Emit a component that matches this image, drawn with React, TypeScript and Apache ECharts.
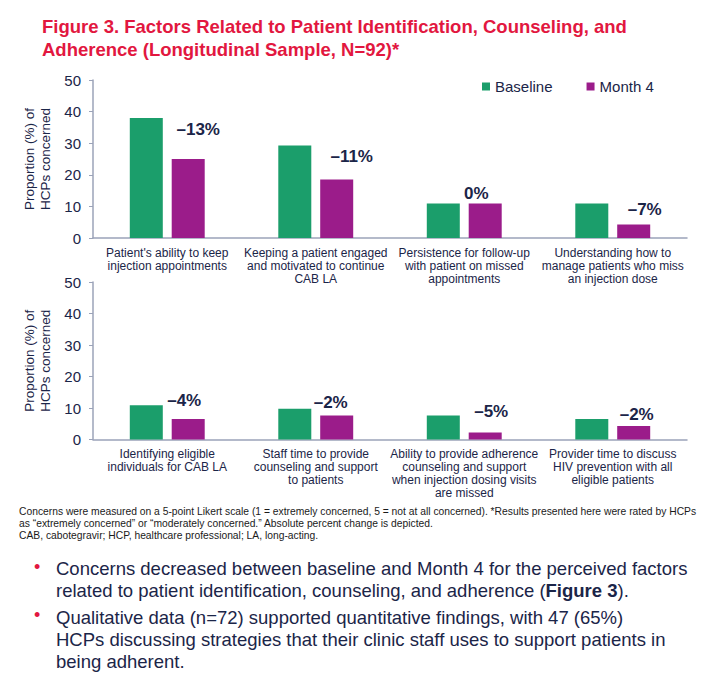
import React, { useEffect, useRef } from "react";
import * as echarts from "echarts";

const SERIES_NAMES = ["Baseline", "Month 4"];

const CATEGORIES_TOP = [
  "Patient's ability to keep\ninjection appointments",
  "Keeping a patient engaged\nand motivated to continue\nCAB LA",
  "Persistence for follow-up\nwith patient on missed\nappointments",
  "Understanding how to\nmanage patients who miss\nan injection dose",
];
const BASELINE_TOP = [38.0, 29.3, 10.9, 10.9];
const MONTH4_TOP = [25.0, 18.5, 10.9, 4.3];
const CHANGE_TOP = ["–13%", "–11%", "0%", "–7%"];

const CATEGORIES_BOTTOM = [
  "Identifying eligible\nindividuals for CAB LA",
  "Staff time to provide\ncounseling and support\nto patients",
  "Ability to provide adherence\ncounseling and support\nwhen injection dosing visits\nare missed",
  "Provider time to discuss\nHIV prevention with all\neligible patients",
];
const BASELINE_BOTTOM = [10.9, 9.8, 7.6, 6.5];
const MONTH4_BOTTOM = [6.5, 7.6, 2.2, 4.3];
const CHANGE_BOTTOM = ["–4%", "–2%", "–5%", "–2%"];

const Y_MIN = 0;
const Y_MAX = 50;
const Y_INTERVAL = 10;

// label nudges (style only, relative to library-placed label)
const NUDGE_TOP = [[10, -16], [15, -10], [-9, 3], [11, -1]];
const NUDGE_BOTTOM = [[-4, -5], [-6, 0], [6, -8], [3, 2]];

const TITLE_LINES = [
  "Figure 3. Factors Related to Patient Identification, Counseling, and",
  "Adherence (Longitudinal Sample, N=92)*",
];
const FOOTNOTE_LINES = [
  "Concerns were measured on a 5-point Likert scale (1 = extremely concerned, 5 = not at all concerned). *Results presented here were rated by HCPs",
  "as “extremely concerned” or “moderately concerned.” Absolute percent change is depicted.",
  "CAB, cabotegravir; HCP, healthcare professional; LA, long-acting.",
];
const BULLET_1 = [
  "Concerns decreased between baseline and Month 4 for the perceived factors",
  "related to patient identification, counseling, and adherence ({b|Figure 3}).",
];
const BULLET_2 = [
  "Qualitative data (n=72) supported quantitative findings, with 47 (65%)",
  "HCPs discussing strategies that their clinic staff uses to support patients in",
  "being adherent.",
];

const FONT = "'Liberation Sans', Arial, Helvetica, sans-serif";
const GREEN = "#1b9e6b";
const PURPLE = "#9b1c8a";
const NAVY = "#1b2548";
const AXIS = "#9ba3b9";
const RED = "#e2173f";

export default function App() {
  const ref = useRef<HTMLDivElement>(null);

  useEffect(() => {
    document.body.style.margin = "0";
    const chart = echarts.init(ref.current!, null, { renderer: "svg" });

    const grids = [
      { left: 93, right: 32, top: 80, height: 158 },
      { left: 93, right: 32, top: 282, height: 157.5 },
    ];

    const xAxisFor = (cats: string[], gridIndex: number) => ({
      type: "category",
      gridIndex,
      data: cats,
      axisLine: { show: true, lineStyle: { color: AXIS, width: 1.5 } },
      axisTick: { show: false },
      axisLabel: {
        interval: 0,
        margin: 8,
        fontSize: 12,
        lineHeight: 13,
        color: NAVY,
        fontFamily: FONT,
      },
    });

    const yAxisFor = (gridIndex: number) => ({
      type: "value",
      gridIndex,
      min: Y_MIN,
      max: Y_MAX,
      interval: Y_INTERVAL,
      name: "Proportion (%) of\nHCPs concerned",
      nameLocation: "middle",
      nameRotate: 90,
      nameGap: 36,
      nameTextStyle: {
        fontSize: 13.5,
        lineHeight: 16,
        color: NAVY,
        fontFamily: FONT,
      },
      axisLine: { show: true, lineStyle: { color: AXIS, width: 1.5 } },
      axisTick: { show: true, length: 4, lineStyle: { color: AXIS } },
      splitLine: { show: false },
      axisLabel: {
        margin: 12,
        fontSize: 15,
        color: NAVY,
        fontFamily: FONT,
      },
    });

    const labelledData = (vals: number[], nudges: number[][]) =>
      vals.map((v, i) => ({
        value: v,
        label: { offset: nudges[i] },
      }));

    const changeLabel = (changes: string[]) => ({
      show: true,
      position: "top",
      distance: 5,
      fontSize: 17,
      fontWeight: "bold",
      color: NAVY,
      fontFamily: FONT,
      formatter: (p: any) => changes[p.dataIndex],
    });

    const barCommon = {
      type: "bar",
      barWidth: 33,
      barGap: "27%",
    };

    const option: any = {
      animation: false,
      backgroundColor: "#ffffff",
      textStyle: { fontFamily: FONT },
      grid: grids,
      legend: {
        data: SERIES_NAMES,
        left: 477,
        top: 74,
        itemWidth: 8,
        itemHeight: 8,
        itemGap: 34,
        icon: "rect",
        textStyle: { fontSize: 15, color: NAVY, fontFamily: FONT },
      },
      xAxis: [xAxisFor(CATEGORIES_TOP, 0), xAxisFor(CATEGORIES_BOTTOM, 1)],
      yAxis: [yAxisFor(0), yAxisFor(1)],
      series: [
        {
          ...barCommon,
          name: SERIES_NAMES[0],
          xAxisIndex: 0,
          yAxisIndex: 0,
          itemStyle: { color: GREEN },
          data: BASELINE_TOP,
        },
        {
          ...barCommon,
          name: SERIES_NAMES[1],
          xAxisIndex: 0,
          yAxisIndex: 0,
          itemStyle: { color: PURPLE },
          label: changeLabel(CHANGE_TOP),
          data: labelledData(MONTH4_TOP, NUDGE_TOP),
        },
        {
          ...barCommon,
          name: SERIES_NAMES[0],
          xAxisIndex: 1,
          yAxisIndex: 1,
          itemStyle: { color: GREEN },
          data: BASELINE_BOTTOM,
        },
        {
          ...barCommon,
          name: SERIES_NAMES[1],
          xAxisIndex: 1,
          yAxisIndex: 1,
          itemStyle: { color: PURPLE },
          label: changeLabel(CHANGE_BOTTOM),
          data: labelledData(MONTH4_BOTTOM, NUDGE_BOTTOM),
        },
      ],
      graphic: [
        {
          type: "text",
          left: 42,
          top: 15,
          style: {
            text: TITLE_LINES.join("\n"),
            fontSize: 18.5,
            fontWeight: "bold",
            fontFamily: FONT,
            fill: RED,
            lineHeight: 23,
          },
        },
        {
          type: "text",
          left: 19,
          top: 505,
          style: {
            text: FOOTNOTE_LINES.join("\n"),
            fontSize: 10.3,
            fontFamily: FONT,
            fill: "#1a1a1a",
            lineHeight: 12,
          },
        },
        {
          type: "text",
          left: 34,
          top: 558,
          style: { text: "•", fontSize: 18, fontFamily: FONT, fill: RED },
        },
        {
          type: "text",
          left: 34,
          top: 606,
          style: { text: "•", fontSize: 18, fontFamily: FONT, fill: RED },
        },
        {
          type: "text",
          left: 56,
          top: 557,
          style: {
            text: BULLET_1.join("\n"),
            fontSize: 18.5,
            fontFamily: FONT,
            fill: NAVY,
            lineHeight: 22,
            rich: {
              b: {
                fontSize: 18.5,
                fontFamily: FONT,
                fontWeight: "bold",
                fill: NAVY,
                lineHeight: 22,
              },
            },
          },
        },
        {
          type: "text",
          left: 56,
          top: 606,
          style: {
            text: BULLET_2.join("\n"),
            fontSize: 18.5,
            fontFamily: FONT,
            fill: NAVY,
            lineHeight: 22,
          },
        },
      ],
    };

    chart.setOption(option);
    return () => chart.dispose();
  }, []);

  return <div ref={ref} style={{ width: 719, height: 677 }} />;
}
